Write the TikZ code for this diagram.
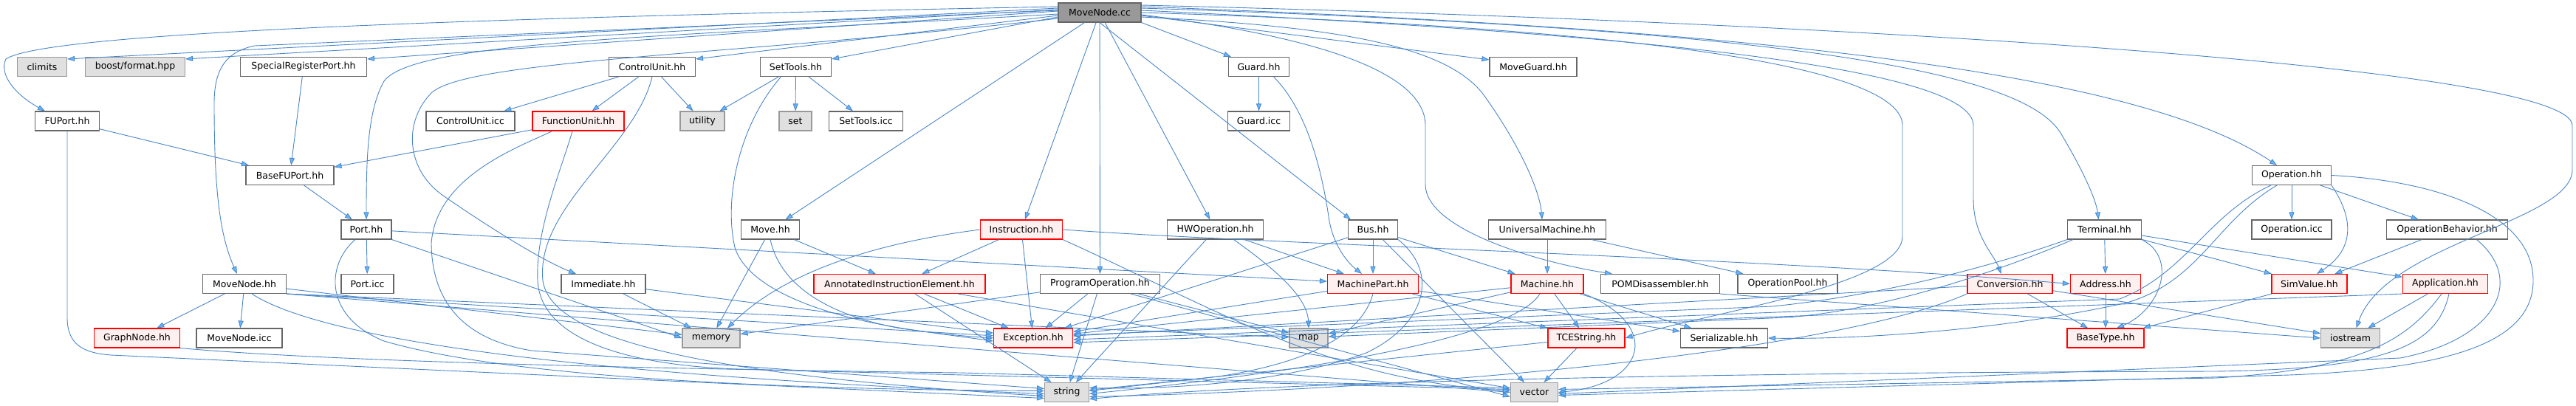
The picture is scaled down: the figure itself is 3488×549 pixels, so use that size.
\documentclass[tikz,border=0pt]{standalone}
\usepackage{fontspec}
\setmainfont{DejaVu Sans}
\usepackage{tikz}
\usetikzlibrary{arrows.meta,positioning,calc}
\definecolor{edgeblue}{HTML}{4A86C8}
\definecolor{tipblue}{HTML}{63B8FF}
\definecolor{boxline}{HTML}{666666}
\definecolor{extline}{HTML}{999999}
\definecolor{extfill}{HTML}{E0E0E0}
\definecolor{redfill}{HTML}{FFF0F0}
\definecolor{rootfill}{HTML}{999999}
\begin{document}
\begin{tikzpicture}[x=1pt,y=1pt,
 hfile/.style={draw=boxline,fill=white,line width=1.1pt,minimum height=26,inner sep=2pt,font=\fontsize{12.5}{14}\selectfont},
 sysh/.style={hfile,draw=extline,fill=extfill},
 redh/.style={hfile,draw=red,fill=redfill},
 mainh/.style={hfile,fill=rootfill},
 inc/.style={draw=edgeblue,line width=0.9pt,-{Triangle[length=10pt,width=7pt,fill=tipblue]}}]
 \fill[white] (0,0) rectangle (3488,-549);
 \useasboundingbox (0,0) rectangle (3488,-549);
 \node[mainh,minimum width=112] (movecc) at (1489,-17) {MoveNode.cc};
 \node[sysh,minimum width=67] (climits) at (57,-90.5) {climits};
 \node[sysh,minimum width=135] (boostfmt) at (183,-90.5) {boost/format.hpp};
 \node[hfile,minimum width=171] (specreg) at (411,-90.5) {SpecialRegisterPort.hh};
 \node[hfile,minimum width=117] (ctrlunit) at (883,-90.5) {ControlUnit.hh};
 \node[hfile,minimum width=96] (settools) at (1077.5,-90.5) {SetTools.hh};
 \node[hfile,minimum width=82] (guard) at (1704.5,-90.5) {Guard.hh};
 \node[hfile,minimum width=118] (moveguard) at (2076,-90.5) {MoveGuard.hh};
 \node[hfile,minimum width=87] (fuport) at (91,-164) {FUPort.hh};
 \node[hfile,minimum width=120] (ctrlicc) at (637,-164) {ControlUnit.icc};
 \node[redh,minimum width=124] (funcunit) at (783,-164) {FunctionUnit.hh};
 \node[sysh,minimum width=60] (utility) at (951,-164) {utility};
 \node[sysh,minimum width=44] (stlset) at (1077,-164) {set};
 \node[hfile,minimum width=100] (settoolsicc) at (1172.5,-164) {SetTools.icc};
 \node[hfile,minimum width=84] (guardicc) at (1704.5,-164) {Guard.icc};
 \node[hfile,minimum width=119] (basefuport) at (392.5,-237.5) {BaseFUPort.hh};
 \node[hfile,minimum width=107] (operation) at (3103,-237.5) {Operation.hh};
 \node[hfile,minimum width=68] (port) at (496,-311) {Port.hh};
 \node[hfile,minimum width=79] (move) at (1043,-311) {Move.hh};
 \node[redh,minimum width=111] (instruction) at (1383,-311) {Instruction.hh};
 \node[hfile,minimum width=130] (hwop) at (1645.5,-311) {HWOperation.hh};
 \node[hfile,minimum width=67] (bus) at (1859,-311) {Bus.hh};
 \node[hfile,minimum width=159] (univmach) at (2095,-311) {UniversalMachine.hh};
 \node[hfile,minimum width=100] (terminal) at (2849.5,-311) {Terminal.hh};
 \node[hfile,minimum width=108] (opicc) at (3103,-311) {Operation.icc};
 \node[hfile,minimum width=164] (opbehav) at (3313.5,-311) {OperationBehavior.hh};
 \node[hfile,minimum width=113] (movenodehh) at (331,-384.5) {MoveNode.hh};
 \node[hfile,minimum width=71] (porticc) at (497.5,-384.5) {Port.icc};
 \node[hfile,minimum width=114] (immediate) at (817,-384.5) {Immediate.hh};
 \node[redh,minimum width=232] (annotated) at (1218,-384.5) {AnnotatedInstructionElement.hh};
 \node[hfile,minimum width=162] (progop) at (1489.5,-384.5) {ProgramOperation.hh};
 \node[redh,minimum width=123] (machinepart) at (1859,-384.5) {MachinePart.hh};
 \node[redh,minimum width=98] (machine) at (2095,-384.5) {Machine.hh};
 \node[hfile,minimum width=161] (pomdis) at (2248,-384.5) {POMDisassembler.hh};
 \node[hfile,minimum width=135] (oppool) at (2420.5,-384.5) {OperationPool.hh};
 \node[redh,minimum width=115] (conversion) at (2721.5,-384.5) {Conversion.hh};
 \node[redh,minimum width=95] (address) at (2851,-384.5) {Address.hh};
 \node[redh,minimum width=102] (simvalue) at (3127,-384.5) {SimValue.hh};
 \node[redh,minimum width=115] (application) at (3311,-384.5) {Application.hh};
 \node[redh,minimum width=116] (graphnode) at (185.5,-458) {GraphNode.hh};
 \node[hfile,minimum width=116] (movenodeicc) at (324,-458) {MoveNode.icc};
 \node[sysh,minimum width=78] (memory) at (963,-458) {memory};
 \node[redh,minimum width=107] (exception) at (1399,-458) {Exception.hh};
 \node[sysh,minimum width=52] (map) at (1772,-458) {map};
 \node[redh,minimum width=104] (tcestring) at (2148,-458) {TCEString.hh};
 \node[hfile,minimum width=118] (serializable) at (2334.5,-458) {Serializable.hh};
 \node[redh,minimum width=104] (basetype) at (2851,-458) {BaseType.hh};
 \node[sysh,minimum width=80] (iostream) at (3182.5,-458) {iostream};
 \node[sysh,minimum width=60] (string) at (1444.5,-531.5) {string};
 \node[sysh,minimum width=64] (vector) at (2077.5,-531.5) {vector};
 \draw[inc] ([yshift=6]movecc.west) -- ([yshift=-3]climits.north east); \draw[inc] ([yshift=4]movecc.west) -- ([yshift=-3]boostfmt.north east);
 \draw[inc] ([yshift=2]movecc.west) -- ([yshift=-3]specreg.north east);
 \draw[inc] ([yshift=-4]movecc.west) -- ([yshift=-3]ctrlunit.north east); \draw[inc] ([yshift=-6]movecc.west) -- ([yshift=-3]settools.north east);
 \draw[inc] ([yshift=8]movecc.west) .. controls (600,-25) and (60,-45) .. (8,-80) .. controls (-2,-100) and (20,-128) .. ([xshift=-30]fuport.north);
 \draw[inc] ([yshift=3]movecc.west) -- (345,-62) .. controls (305,-70) and (290,-95) .. (290,-140) .. controls (290,-260) and (298,-320) .. ([xshift=-10]movenodehh.north);
 \draw[inc] ([yshift=-2]movecc.west) .. controls (900,-50) and (560,-55) .. (520,-110) .. controls (497,-150) and (496,-220) .. (port.north);
 \draw[inc] ([yshift=-8]movecc.west) .. controls (1000,-75) and (640,-80) .. (585,-125) .. controls (545,-165) and (550,-230) .. (600,-265) .. controls (680,-320) and (740,-355) .. ([xshift=-37]immediate.north);
 \draw[inc] (movecc) -- (move); \draw[inc] (movecc) -- (instruction); \draw[inc] (movecc) -- (progop);
 \draw[inc] (movecc) -- (hwop); \draw[inc] (movecc.south east) -- ([xshift=4]guard.north west); \draw[inc] (movecc.south) -- ([xshift=-30]bus.north);
 \draw[inc] ([yshift=-4]movecc.east) -- ([yshift=-4]moveguard.north west);
 \draw[inc] ([yshift=-6]movecc.east) .. controls (1800,-35) and (1960,-60) .. (2010,-130) .. controls (2060,-200) and (2085,-260) .. ([xshift=-7]univmach.north);
 \draw[inc] ([yshift=-3]movecc.east) .. controls (1750,-45) and (1930,-90) .. (1930,-170) -- (1930,-250) .. controls (1930,-310) and (2080,-355) .. ([xshift=-65]pomdis.north);
 \draw[inc] (movecc.east) .. controls (2300,-40) and (2576,-100) .. (2576,-170) -- (2576,-320) .. controls (2576,-385) and (2330,-420) .. (tcestring.east);
 \draw[inc] ([yshift=3]movecc.east) .. controls (2200,-45) and (2672,-90) .. (2672,-170) -- (2672,-270) .. controls (2672,-320) and (2700,-345) .. ([xshift=-12]conversion.north);
 \draw[inc] ([yshift=6]movecc.east) .. controls (2450,-40) and (2740,-100) .. (2790,-180) .. controls (2820,-230) and (2838,-270) .. ([xshift=-8]terminal.north);
 \draw[inc] ([yshift=8]movecc.east) .. controls (2400,-40) and (2900,-100) .. ([xshift=-20]operation.north);
 \draw[inc] ([yshift=10]movecc.east) .. controls (2500,-30) and (3483,-90) .. (3483,-170) -- (3483,-230) .. controls (3483,-300) and (3230,-330) .. ([xshift=8]iostream.north);
 \draw[inc] (specreg) -- (basefuport); \draw[inc] (fuport) -- (basefuport); \draw[inc] (funcunit) -- (basefuport); \draw[inc] (basefuport) -- (port);
 \draw[inc] (ctrlunit) -- (ctrlicc); \draw[inc] (ctrlunit) -- (funcunit); \draw[inc] (ctrlunit) -- (utility);
 \draw[inc] (settools) -- (utility); \draw[inc] (settools) -- (stlset); \draw[inc] (settools) -- (settoolsicc); \draw[inc] (guard) -- (guardicc);
 \draw[inc] ([xshift=-20]settools.south) .. controls (1000,-170) and (980,-270) .. (995,-335) .. controls (1015,-400) and (1150,-445) .. (exception.west);
 \draw[inc] (ctrlunit.south) .. controls (860,-200) and (725,-280) .. (735,-380) .. controls (745,-450) and (900,-505) .. ([yshift=-5]string.west);
 \draw[inc] ([xshift=-8]funcunit.south) .. controls (760,-230) and (725,-310) .. (728,-380) .. controls (732,-460) and (850,-495) .. (1000,-500) -- ([yshift=4]vector.west);
 \draw[inc] ([xshift=-35]funcunit.south) .. controls (700,-200) and (590,-240) .. (584,-330) .. controls (585,-420) and (640,-462) .. (720,-475) -- ([yshift=5]string.west);
 \draw[inc] (fuport.south) -- (91,-430) .. controls (91,-465) and (110,-478) .. (150,-481) -- ([yshift=-8]string.west);
 \draw[inc] (port) -- (porticc); \draw[inc] (port.south east) -- (memory.west); \draw[inc] (port) -- (machinepart);
 \draw[inc] ([xshift=-15]port.south) .. controls (440,-360) and (440,-430) .. (520,-462) .. controls (700,-515) and (1100,-528) .. ([yshift=2]string.west);
 \draw[inc] (movenodehh) -- (graphnode); \draw[inc] (movenodehh) -- (movenodeicc); \draw[inc] (movenodehh) -- (memory);
 \draw[inc] (movenodehh.south east) -- (exception); \draw[inc] (movenodehh.south east) -- (map); \draw[inc] (movenodehh.south east) -- (vector.west);
 \draw[inc] ([xshift=10]movenodehh.south) .. controls (420,-450) and (700,-505) .. ([yshift=-2]string.west);
 \draw[inc] (graphnode.south east) .. controls (450,-490) and (900,-500) .. (1300,-505) -- ([yshift=6]vector.west);
 \draw[inc] (immediate) -- (memory); \draw[inc] (immediate) -- (exception);
 \draw[inc] (move) -- (memory); \draw[inc] (move) -- (annotated);
 \draw[inc] (move.south) .. controls (1055,-380) and (1110,-425) .. (1220,-445) -- ([yshift=-4]exception.west);
 \draw[inc] (instruction) -- (annotated); \draw[inc] (instruction) -- (exception);
 \draw[inc] (instruction.east) .. controls (1700,-330) and (2400,-350) .. (address.west);
 \draw[inc] (instruction.west) .. controls (1180,-330) and (1060,-370) .. ([xshift=22]memory.north);
 \draw[inc] (instruction.south east) .. controls (1650,-420) and (1800,-515) .. ([yshift=2]vector.west);
 \draw[inc] (annotated) -- (exception); \draw[inc] (annotated) -- (string); \draw[inc] (annotated) -- (vector);
 \draw[inc] (progop) -- (exception); \draw[inc] (progop) -- (string); \draw[inc] (progop) -- (memory); \draw[inc] (progop) -- (map);
 \draw[inc] ([xshift=-40]progop.south east) -- ([yshift=-6]vector.west);
 \draw[inc] (hwop) -- (string); \draw[inc] (hwop) -- (machinepart);
 \draw[inc] ([xshift=25]hwop.south) .. controls (1720,-360) and (1770,-400) .. (map.north);
 \draw[inc] (bus) -- (machinepart); \draw[inc] (bus) -- (machine); \draw[inc] (bus) -- (exception); \draw[inc] (bus) -- (vector);
 \draw[inc] (bus.south east) .. controls (1950,-370) and (1930,-440) .. (1850,-478) .. controls (1750,-515) and (1600,-528) .. ([yshift=6]string.east);
 \draw[inc] ([xshift=20]guard.south) .. controls (1770,-150) and (1790,-230) .. (1800,-300) .. controls (1808,-340) and (1830,-360) .. ([xshift=-15]machinepart.north);
 \draw[inc] (univmach) -- (machine); \draw[inc] (univmach) -- (oppool);
 \draw[inc] (machinepart) -- (tcestring); \draw[inc] (machinepart) -- (serializable); \draw[inc] (machinepart) -- (exception);
 \draw[inc] (machinepart.south) .. controls (1845,-450) and (1780,-490) .. (1650,-510) -- ([yshift=2]string.east);
 \draw[inc] (machine) -- (tcestring); \draw[inc] (machine) -- (serializable); \draw[inc] (machine) -- (exception); \draw[inc] (machine) -- (map);
 \draw[inc] (machine.south east) .. controls (2250,-440) and (2230,-520) .. (vector.east);
 \draw[inc] ([xshift=-10]machine.south) .. controls (2060,-440) and (1900,-490) .. ([yshift=-2]string.east);
 \draw[inc] (tcestring) -- (vector); \draw[inc] (tcestring) -- (string);
 \draw[inc] (pomdis.south east) -- (iostream.west);
 \draw[inc] (conversion) -- (basetype); \draw[inc] (conversion) -- (exception); \draw[inc] (conversion) -- (iostream);
 \draw[inc] (conversion.south west) .. controls (2500,-470) and (2000,-525) .. ([yshift=-6]string.east);
 \draw[inc] (address) -- (basetype);
 \draw[inc] (terminal) -- (address); \draw[inc] (terminal) -- (simvalue); \draw[inc] (terminal) -- (application);
 \draw[inc] (terminal.south east) .. controls (2950,-350) and (2925,-420) .. ([xshift=15]basetype.north);
 \draw[inc] (terminal.south west) .. controls (2700,-360) and (2550,-400) .. (2400,-415) -- ([yshift=4]exception.east);
 \draw[inc] ([xshift=8]terminal.south west) .. controls (2700,-370) and (2550,-420) .. (2420,-430) -- ([yshift=2]map.east);
 \draw[inc] (operation) -- (opicc); \draw[inc] (operation) -- (opbehav);
 \draw[inc] (operation.south east) .. controls (3190,-300) and (3185,-340) .. ([xshift=10]simvalue.north);
 \draw[inc] ([xshift=-20]operation.south) .. controls (3000,-300) and (2980,-380) .. (2880,-410) .. controls (2700,-450) and (2500,-460) .. (serializable.east);
 \draw[inc] ([xshift=-28]operation.south) .. controls (2990,-290) and (2960,-370) .. (2870,-405) -- ([yshift=-2]exception.east);
 \draw[inc] (operation.east) .. controls (3300,-245) and (3430,-290) .. (3430,-380) .. controls (3430,-470) and (3300,-500) .. (3100,-508) -- ([yshift=-4]vector.east);
 \draw[inc] (opbehav) -- (simvalue);
 \draw[inc] ([xshift=40]opbehav.south) .. controls (3420,-380) and (3380,-460) .. (3250,-485) -- ([yshift=-2]vector.east);
 \draw[inc] (simvalue) -- (basetype);
 \draw[inc] (application) -- (iostream); \draw[inc] (application.south west) -- ([yshift=-6]exception.east);
 \draw[inc] ([xshift=-5]application.south) .. controls (3260,-460) and (3200,-500) .. (3000,-512) -- ([yshift=4]vector.east);
 \draw[inc] ([xshift=5]application.south) .. controls (3300,-470) and (3230,-500) .. (3000,-503) .. controls (2200,-505) and (1700,-520) .. ([yshift=-9]string.east);
\end{tikzpicture}
\end{document}
